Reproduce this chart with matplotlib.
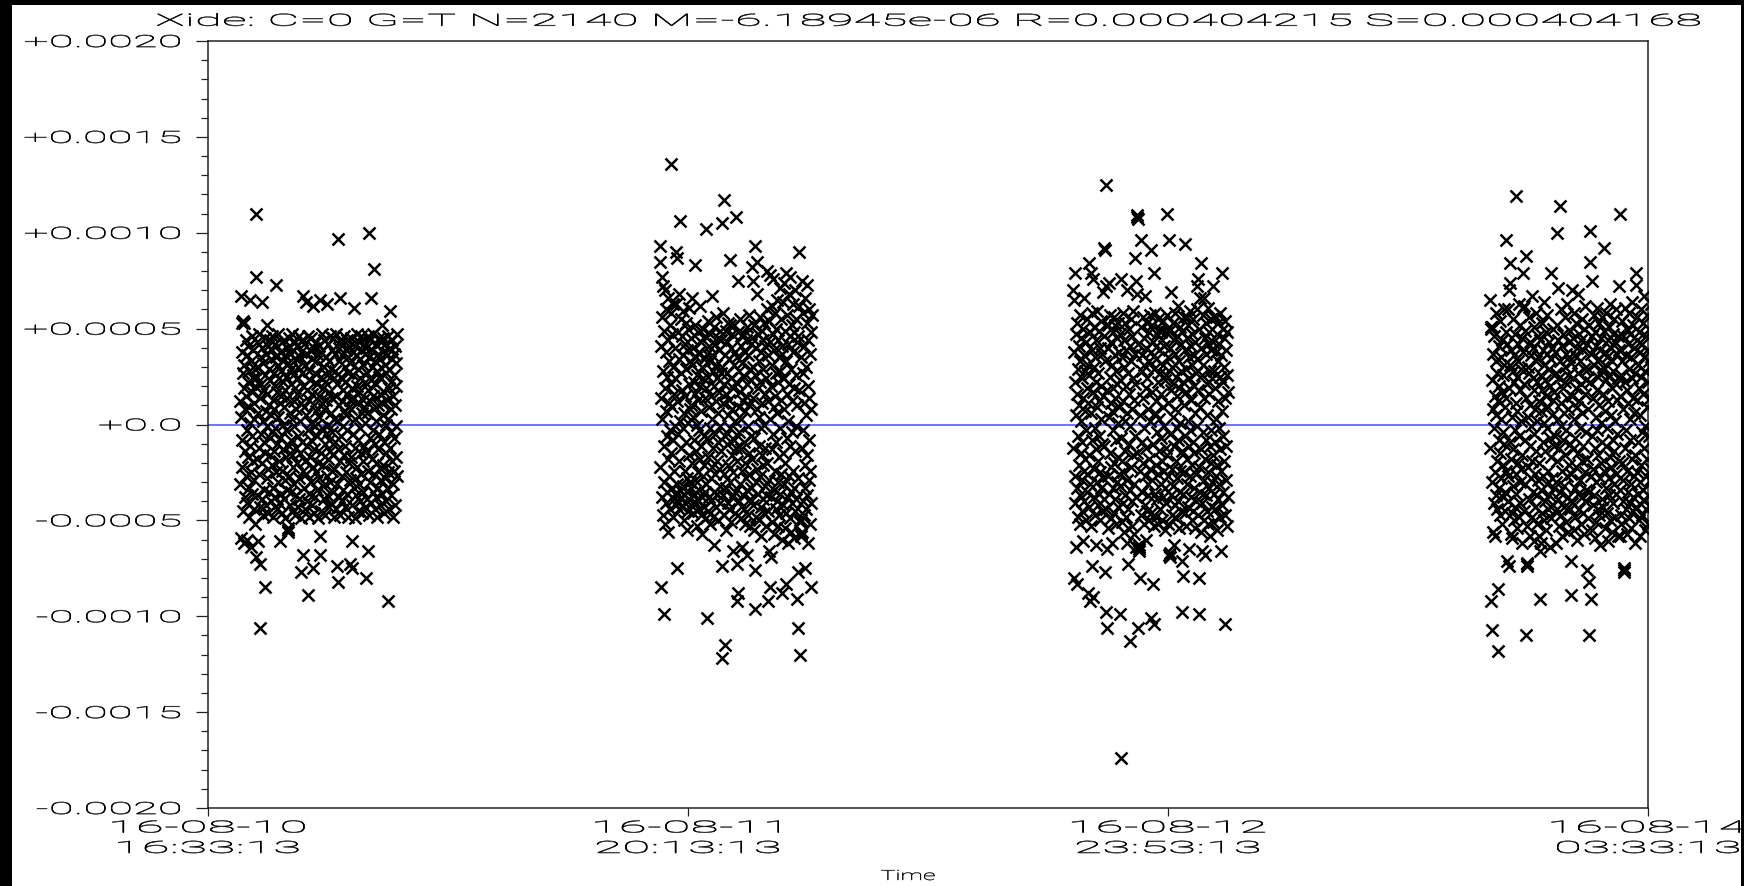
import numpy as np
import pandas as pd
import matplotlib
matplotlib.use("Agg")
import matplotlib.pyplot as plt
from matplotlib.patheffects import AbstractPathEffect
from matplotlib.transforms import Affine2D
from matplotlib.patches import Rectangle
from matplotlib.ticker import MultipleLocator

# ---------------- data (values in units of 1e-5) ----------------
title_text = "Xide: C=0 G=T N=2140 M=-6.18945e-06 R=0.000404215 S=0.000404168"

night_start = ["2016-08-10 18:24:00", "2016-08-11 18:36:00",
               "2016-08-12 18:25:00", "2016-08-13 18:27:00"]
night_end = ["2016-08-11 03:27:00", "2016-08-12 03:21:00",
             "2016-08-13 03:20:00", "2016-08-14 03:44:00"]

night1 = [
    12,-31,67,4,-59,38,-22,53,-8,27,54,-45,19,-62,53,31,-14,-38,8,44,-27,15,-3,-60,36,-41,22,-17,41,9,-33,28,-48,1,-11,65,33,-25,-64,17,46,-6,-36,24,-19,39,-44,11,3,-29,-52,29,20,
    -69,110,77,25,-18,43,-37,6,-61,30,-12,47,-26,14,-43,-106,-73,35,-5,21,-39,40,-20,64,2,-47,32,-9,18,-34,45,-15,26,-85,7,-42,37,-1,52,-28,16,-46,41,-23,10,-35,29,-7,44,-16,23,-40,5,34,
    -21,39,-4,46,-33,13,-48,27,8,-14,42,-38,20,-2,35,-25,73,-44,17,-10,31,-30,4,47,-19,24,-41,11,-61,38,-7,-36,28,15,-46,43,-24,0,33,-13,22,-39,9,44,-29,18,-49,36,-3,25,-17,40,-34,
    14,-55,-56,32,-54,-11,45,-27,6,37,-42,21,-8,29,-35,47,-16,3,-45,26,-22,39,12,-31,-1,43,-47,19,-12,34,-37,8,41,-20,16,-43,30,-6,24,-28,46,-39,2,35,-15,11,-49,38,-77,27,-9,44,-24,
    67,-68,20,-33,9,42,-19,31,-44,5,64,-26,37,-11,18,-40,46,-3,-89,28,-36,13,-48,39,-17,23,1,-30,45,-8,34,-42,16,-22,62,-75,10,-46,40,-13,27,-1,-38,33,-25,7,43,-34,21,-6,-49,36,-20,15,
    41,-28,4,65,-58,-68,25,-15,38,-45,11,-2,47,-32,19,-21,30,-39,8,44,-10,22,-47,35,-5,13,-27,63,-37,26,0,-18,42,-43,17,-8,33,-30,46,-14,6,-41,29,-24,39,-4,14,-35,45,-16,24,-48,3,
    -23,37,-9,28,-44,15,47,-31,2,-74,21,97,-82,-13,40,-38,10,33,-19,66,-47,25,-6,43,-27,12,-40,36,-1,18,-34,46,-16,7,30,-43,22,-11,39,-25,5,44,-36,16,-3,35,-48,27,-20,9,41,-29,13,
    32,-73,8,-17,45,-42,19,-61,-75,38,-5,26,-33,61,14,-49,41,-12,3,-28,36,-37,20,47,-22,11,-45,29,-8,43,-31,17,-2,34,-40,24,-15,46,-26,6,39,-46,13,-19,31,-35,9,42,-11,22,-43,37,1,
    -14,40,-80,27,-39,6,46,-24,-66,18,35,100,-47,12,-7,44,-30,23,66,-41,30,-18,39,-3,15,-35,47,-26,81,8,-44,33,-10,21,-38,42,2,-20,28,-48,37,-13,10,-33,45,-5,25,-42,16,34,-23,43,-29,
    24,-36,11,52,38,-21,5,45,-46,17,-9,31,-28,42,0,-40,27,-15,36,-33,13,46,-25,3,-92,29,-44,19,59,-12,40,-37,8,22,-4,34,-19,44,-31,15,-48,26,-7,37,-24,10,41,-42,20,-1,32,-17,47,-27,
]

night2 = [
    93,-22,85,41,-85,14,77,-38,56,3,-47,28,72,-11,-99,49,-30,19,70,-52,7,38,-41,60,-6,25,-35,66,-18,44,-56,11,33,-27,52,-3,-44,136,21,-15,58,-33,9,47,-48,30,-8,63,-39,16,-24,40,-1,
    -36,24,-42,63,90,87,-31,12,-75,48,-40,-5,34,-44,68,-19,106,-34,2,55,-38,27,-12,46,-43,18,-2,59,-32,36,-50,6,-37,42,-24,15,-41,53,-9,29,-35,-55,39,-28,1,50,-45,21,-16,61,-39,8,33,-30,
    45,-33,10,-42,31,-20,66,-37,4,40,-46,22,-8,-36,52,-29,16,83,-41,35,-14,-53,26,0,-39,48,-25,13,-44,38,-3,-34,62,-18,20,-47,43,-11,7,-38,30,-57,24,-27,50,-6,-43,34,-21,14,-35,46,-49,
    19,-31,102,37,-101,-7,54,-45,25,-17,41,-38,9,-52,33,-2,47,-28,15,-40,67,-22,3,36,-48,28,-12,51,-35,20,-63,42,-5,-26,31,-43,12,56,-19,24,-36,45,-9,6,-50,39,-23,17,-41,49,-1,-32,27,
    -14,44,105,-122,-74,30,-37,11,58,117,-26,21,-47,36,-6,-115,49,-33,16,-55,27,-10,43,-41,5,53,-21,34,-44,13,-2,52,86,-30,24,-51,40,-16,8,-38,47,-25,19,-66,31,-8,52,-35,2,38,-46,22,-12,
    108,-92,35,-19,-73,48,75,-88,9,-40,28,-4,55,-31,17,-49,41,-13,3,-64,32,-24,46,-37,12,47,-9,-44,25,-20,38,-52,7,44,-28,15,-68,51,-34,21,-1,-47,36,-15,57,-26,10,-39,29,-53,42,-6,23,-33,
    45,82,-18,30,75,-42,14,-55,52,-7,-76,26,93,-96,-30,40,-48,8,68,-23,85,19,-36,47,-11,33,-50,4,56,-27,22,-43,38,-2,-58,49,-16,11,-39,44,-21,29,-46,0,53,-32,16,-12,41,-53,24,-37,60,
    -20,80,-92,36,-45,12,-66,54,-29,78,3,-85,43,-38,20,-69,62,-13,31,-51,76,-5,47,-34,9,-57,39,-24,58,15,-44,27,-9,50,-40,6,65,-30,22,-53,44,-17,35,-47,71,-2,28,-36,55,-26,13,-60,41,
    37,-88,-15,64,-42,24,74,-31,8,-54,49,-20,79,-83,33,-46,16,-7,57,-38,42,-62,2,68,-27,21,-49,46,-11,77,-35,29,-56,12,52,-41,-4,63,-24,38,-59,19,-33,48,-14,70,-45,26,-1,55,-39,10,43,
    -91,46,-28,-77,-106,18,62,90,-50,-120,-51,-50,35,-57,-58,-56,-12,75,-40,27,-3,58,-47,11,41,-33,-75,66,-21,30,-44,5,53,-16,73,-37,20,-62,44,-8,60,-29,14,-52,37,-24,48,-85,8,-41,57,
]

night3 = [
    70,-12,65,-80,38,-41,22,-27,79,5,-64,47,-83,-33,16,53,-48,29,-6,41,-21,10,-52,57,-37,33,-15,2,45,-29,-45,24,-9,50,-61,14,-24,36,-40,66,7,-18,28,-50,43,-3,19,-35,55,-26,11,-88,31,
    -43,84,26,-16,48,-92,-31,6,79,-53,39,-74,-8,58,-90,17,76,-38,30,-23,51,-2,-47,35,-13,22,-63,44,-30,9,59,-19,-42,27,-6,-36,49,12,-50,40,-25,3,54,-33,20,-45,37,-10,69,-28,15,-39,46,
    -11,92,91,-77,33,-98,72,-44,125,-65,-106,18,52,-27,40,-54,4,74,-36,25,-15,57,-49,11,43,-22,31,-62,7,48,-33,19,-3,-46,56,-20,36,-39,14,52,-52,28,-8,45,-30,21,-43,1,53,-17,38,-26,9,
    47,-99,-32,23,-174,-7,76,-51,35,-19,58,-41,12,-25,44,-56,30,2,-37,53,-14,20,-48,39,-62,6,70,-29,-73,27,-44,50,-10,16,-113,41,-34,-1,55,-22,33,-53,8,46,-40,24,-16,59,-31,13,-57,37,-6,
    87,21,-38,75,-64,68,-15,108,109,-106,107,42,-63,-65,-64,-66,-24,-80,5,51,96,-47,28,-9,36,-35,56,-20,14,-52,45,-2,31,-42,67,-27,19,-60,40,-12,24,-45,53,-31,8,-37,48,-18,33,-50,2,57,-23,
    38,-101,-46,91,17,-29,52,-83,-10,43,-104,-53,29,79,-36,6,58,-21,34,-48,12,47,-39,-4,55,-26,22,-52,39,-14,3,50,-44,27,-31,48,-7,16,-50,44,-19,31,-38,9,54,-24,-1,41,-55,23,-33,48,-12,
    26,-41,57,-16,110,35,-52,11,-27,49,96,-68,-67,-69,-5,40,-37,18,69,-23,30,-47,4,53,-32,21,-63,44,-11,37,-42,8,58,-19,25,-49,-2,46,-28,15,-40,62,-8,33,-54,19,-24,51,-35,1,42,-45,28,
    -14,-98,48,-71,-36,22,-79,56,-25,10,94,-46,39,-6,29,-53,17,56,-31,45,-18,2,-43,52,-11,35,-65,24,-27,59,-3,-38,41,13,-50,31,-21,47,-9,-45,55,20,-33,36,-15,6,-54,43,-26,27,-40,60,-1,
    34,72,-47,18,76,-80,-99,-22,50,-35,9,66,-56,40,-13,84,-66,26,-41,57,-4,31,-50,14,66,-29,45,-18,-68,37,-8,53,-37,21,-45,5,61,-25,42,-52,16,-33,48,-11,28,-58,39,-20,55,-3,-43,24,-30,
    43,-16,72,-51,28,-36,56,-9,19,-44,38,-27,56,3,-55,47,-21,33,-39,12,53,-31,-2,42,-48,25,58,-13,-66,36,-24,79,7,-42,50,-6,22,-35,45,-19,30,-104,14,-47,54,-29,39,-11,-53,26,48,-38,17,
]

night4 = [
    65,-12,51,50,-92,23,51,-107,-30,8,-56,37,-41,-2,46,-58,15,-25,33,-37,5,58,-19,27,-44,-118,12,-86,41,-8,-33,20,-47,54,-15,3,-28,35,-52,17,44,-4,-38,26,-21,60,-10,31,-45,9,-35,48,-24,
    14,96,42,42,-71,-27,60,-40,19,70,-74,-9,84,74,31,-57,-18,39,-46,4,-59,28,-32,55,-13,22,-50,36,-3,-43,47,11,-26,119,-36,25,-54,7,42,-20,33,-48,63,-6,-30,18,-41,52,2,-23,29,-62,45,
    -16,79,38,61,61,62,-45,21,-8,49,-31,88,14,-110,-53,-73,-72,-74,30,-22,4,56,-39,27,-11,43,-58,10,-28,36,-1,-48,67,-19,24,-35,40,-5,-61,18,51,-26,8,-43,33,-14,58,-37,22,-52,2,46,-29,
    35,-58,-20,12,-91,44,-66,-34,26,-62,7,53,-46,18,-9,39,-27,64,-50,1,31,-40,23,-14,48,-55,15,-31,37,-2,57,-44,9,-24,29,-37,43,-7,20,-64,34,-17,79,-49,5,40,-28,13,-42,50,-11,26,-33,
    17,-45,38,-6,-62,27,-30,100,52,-19,71,3,-39,44,-53,24,-12,114,-35,33,-1,60,-47,11,-24,41,-58,19,-8,47,-32,6,-43,30,56,-16,22,-51,37,-3,-27,14,63,-38,26,-56,8,43,-21,35,-44,-10,49,
    -26,-89,32,-71,15,70,-41,45,-13,24,-55,3,58,-33,36,-7,-48,19,53,-22,40,-60,9,-36,27,68,-15,47,-44,12,-29,33,-2,-52,44,21,-38,55,-19,6,-46,39,-11,29,-57,50,-25,16,-40,62,-4,-34,23,
    42,-76,-18,29,-49,8,52,-35,-82,-110,22,85,101,-91,-27,37,-55,75,-6,46,-42,14,-23,57,-37,31,-12,-59,48,4,-30,41,-51,18,-3,61,-44,25,-16,34,-47,10,53,-28,39,-63,1,45,-20,28,-39,56,-9,
    30,-43,16,-24,49,92,-54,7,38,-33,23,-11,58,-46,35,-2,-61,44,12,-28,51,-37,26,-17,63,-50,5,40,-22,33,-56,19,-8,47,-41,28,-14,55,-31,2,43,-48,21,-26,60,-36,13,-5,37,-58,24,46,-19,
    39,72,-34,110,15,-58,-47,26,-52,54,-20,33,-40,8,46,-29,-76,-75,-77,22,-12,61,-44,36,-3,50,-57,18,-24,42,-35,11,58,-49,29,-8,-41,47,3,-31,35,-54,24,-18,64,-38,14,-45,52,-27,6,40,-62,
    27,-16,79,73,-43,44,-25,13,56,-36,31,-9,-50,48,19,-30,38,-58,5,60,-21,25,-47,42,-4,-34,53,16,-40,35,-12,67,-55,28,-1,-27,46,-44,9,39,-18,57,-37,22,-52,33,-6,50,-29,14,-42,63,-23,30,
]

x_tick_times = ["2016-08-10 16:33:13", "2016-08-11 20:13:13",
                "2016-08-12 23:53:13", "2016-08-14 03:33:13"]
x_tick_labels = ["16-08-10\n16:33:13", "16-08-11\n20:13:13",
                 "16-08-12\n23:53:13", "16-08-14\n03:33:13"]
y_ticks = [0.0020, 0.0015, 0.0010, 0.0005, 0.0, -0.0005, -0.0010, -0.0015, -0.0020]
y_tick_labels = ["+0.0020", "+0.0015", "+0.0010", "+0.0005", "+0.0",
                 "-0.0005", "-0.0010", "-0.0015", "-0.0020"]
x_label = "Time"


# ---------------- helpers ----------------
class PlotterText(AbstractPathEffect):
    """Wide, thin stroke text like the old plotter font: stretch glyphs
    horizontally and thicken only the horizontal strokes slightly."""
    def __init__(self, sx, align="center", thick=0.7):
        super().__init__()
        self.sx = sx
        self.align = align
        self.thick = thick

    def draw_path(self, renderer, gc, tpath, affine, rgbFace=None):
        ext = tpath.transformed(affine).get_extents()
        if self.align == "right":
            cx = ext.x1
        elif self.align == "left":
            cx = ext.x0
        else:
            cx = 0.5 * (ext.x0 + ext.x1)
        base = affine + Affine2D().translate(-cx, 0).scale(self.sx, 1).translate(cx, 0)
        for dy in (-self.thick / 2, 0.0, self.thick / 2):
            renderer.draw_path(gc, tpath, base + Affine2D().translate(0, dy), rgbFace)


plt.rcParams["font.family"] = ["Roboto", "DejaVu Sans"]
plt.rcParams["font.weight"] = 100
plt.rcParams["axes.titleweight"] = 100

W, H = 1744, 887
fig = plt.figure(figsize=(W / 100, H / 100), dpi=100, facecolor="white")
ax = fig.add_axes([208 / W, 1 - 809 / H, (1648 - 208) / W, (809 - 42) / H])
ax.set_facecolor("white")

# zero line
ax.axhline(0.0, color="#4a4aff", lw=1.1, zorder=1)

# points
for vals, s, e in zip([night1, night2, night3, night4], night_start, night_end):
    t = pd.date_range(pd.Timestamp(s), pd.Timestamp(e), periods=len(vals))
    y = np.asarray(vals, dtype=float) * 1e-5
    ax.plot(t, y, linestyle="none", marker="x", ms=8.3, mew=1.8,
            color="black", zorder=3)

# axes ranges and ticks
xt = [pd.Timestamp(v) for v in x_tick_times]
ax.set_xlim(xt[0], xt[-1])
ax.set_ylim(-0.002, 0.002)
ax.set_xticks(xt)
ax.set_xticklabels(x_tick_labels)
ax.set_yticks(y_ticks)
ax.set_yticklabels(y_tick_labels)
ax.yaxis.set_minor_locator(MultipleLocator(0.0001))

ax.tick_params(axis="y", which="major", direction="out", length=8.5, width=0.9,
               pad=11, labelsize=12, colors="#222222")
ax.tick_params(axis="y", which="minor", direction="out", length=5, width=0.9,
               colors="#222222")
ax.tick_params(axis="x", which="major", direction="out", length=6, width=0.9,
               pad=3, labelsize=12, colors="#222222")

for sp in ax.spines.values():
    sp.set_color("#222222")
    sp.set_linewidth(1.1)

for lab in ax.get_yticklabels():
    lab.set_path_effects([PlotterText(2.72, "right")])
    lab.set_color("black")
    lab.set_fontweight(100)
for lab in ax.get_xticklabels():
    lab.set_path_effects([PlotterText(3.1, "center")])
    lab.set_linespacing(1.45)
    lab.set_color("black")
    lab.set_fontweight(100)

ttl = ax.set_title(title_text, fontsize=12, pad=11, color="black", fontweight=100)
ttl.set_path_effects([PlotterText(2.96, "center")])

xl = fig.text(908 / W, 1 - 877 / H, x_label, fontsize=10, ha="center",
              va="center", color="black", fontweight=100)
xl.set_path_effects([PlotterText(1.8, "center", thick=0.5)])

# black frame strips of the original screenshot
fig.patches.append(Rectangle((0, 0), 12 / W, 1, transform=fig.transFigure,
                             facecolor="black", edgecolor="none", zorder=10))
fig.patches.append(Rectangle((0, 1 - 6 / H), 1, 6 / H, transform=fig.transFigure,
                             facecolor="black", edgecolor="none", zorder=10))
fig.patches.append(Rectangle((1 - 3 / W, 0), 3 / W, 1, transform=fig.transFigure,
                             facecolor="black", edgecolor="none", zorder=10))

fig.savefig("out.png", dpi=100, facecolor="white")
